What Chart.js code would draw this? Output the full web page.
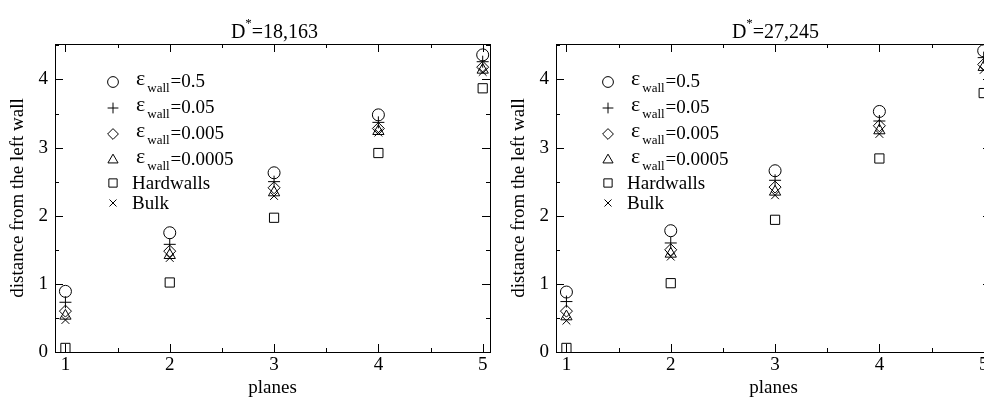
<!DOCTYPE html>
<html>
<head>
<meta charset="utf-8">
<script src="https://cdn.jsdelivr.net/npm/chart.js@4.4.0/dist/chart.umd.min.js"></script>
<style>
  html, body { margin: 0; padding: 0; background: #fff; overflow: hidden; }
  #wrap { position: relative; width: 984px; height: 401px; overflow: hidden; }
  .panel { position: absolute; top: 0; width: 500px; height: 401px; }
</style>
</head>
<body>
<div id="wrap">
  <div class="panel" style="left:0"><canvas id="left"></canvas></div>
  <div class="panel" style="left:501px"><canvas id="right"></canvas></div>
</div>
<script>
const planes = [1, 2, 3, 4, 5];
const xTicks = [1, 2, 3, 4, 5];
const yTicks = [0, 1, 2, 3, 4];
const seriesNames = ['0.5', '0.05', '0.005', '0.0005', 'Hardwalls', 'Bulk'];

// D*=18,163
const leftEps05 = [0.89, 1.75, 2.63, 3.48, 4.36];
const leftEps005 = [0.73, 1.58, 2.50, 3.37, 4.26];
const leftEps0005 = [0.60, 1.48, 2.41, 3.28, 4.18];
const leftEps00005 = [0.53, 1.42, 2.34, 3.24, 4.14];
const leftHard = [0.06, 1.02, 1.97, 2.92, 3.87];
const leftBulk = [0.47, 1.38, 2.29, 3.22, 4.11];

// D*=27,245
const rightEps05 = [0.88, 1.78, 2.66, 3.53, 4.42];
const rightEps005 = [0.74, 1.60, 2.52, 3.39, 4.32];
const rightEps0005 = [0.60, 1.50, 2.42, 3.32, 4.22];
const rightEps00005 = [0.52, 1.44, 2.35, 3.25, 4.18];
const rightHard = [0.06, 1.01, 1.94, 2.84, 3.80];
const rightBulk = [0.46, 1.40, 2.30, 3.20, 4.14];

const FONT = "'Liberation Serif', 'Times New Roman', serif";
const styles = ['circle', 'cross', 'rectRot', 'triangle', 'rect', 'crossRot'];
const radii = [6, 6, 6, 6.5, 6.5, 5.5];

// small copy of chart.js marker shapes for the legend
function drawMarker(ctx, style, x, y, r) {
  ctx.beginPath();
  if (style === 'circle') {
    ctx.arc(x, y, r, 0, Math.PI * 2);
  } else if (style === 'cross') {
    ctx.moveTo(x - r, y); ctx.lineTo(x + r, y);
    ctx.moveTo(x, y - r); ctx.lineTo(x, y + r);
  } else if (style === 'crossRot') {
    const s = r * Math.SQRT1_2;
    ctx.moveTo(x - s, y - s); ctx.lineTo(x + s, y + s);
    ctx.moveTo(x - s, y + s); ctx.lineTo(x + s, y - s);
  } else if (style === 'rectRot') {
    ctx.moveTo(x, y - r); ctx.lineTo(x + r, y); ctx.lineTo(x, y + r); ctx.lineTo(x - r, y); ctx.closePath();
  } else if (style === 'rect') {
    const s = r * Math.SQRT1_2;
    ctx.rect(x - s, y - s, 2 * s, 2 * s);
  } else if (style === 'triangle') {
    for (let k = 0; k < 3; k++) {
      const a = k * 2 * Math.PI / 3;
      const px = x + Math.sin(a) * r, py = y - Math.cos(a) * r;
      if (k === 0) ctx.moveTo(px, py); else ctx.lineTo(px, py);
    }
    ctx.closePath();
  }
  ctx.stroke();
}

const decor = {
  id: 'decor',
  afterDraw(chart, args, opts) {
    const { ctx, chartArea: a, scales: { x, y } } = chart;
    ctx.save();
    ctx.strokeStyle = '#000';
    ctx.fillStyle = '#000';
    ctx.lineWidth = 1;
    ctx.strokeRect(Math.round(a.left) + 0.5, Math.round(a.top) + 0.5,
      Math.round(a.right - a.left), Math.round(a.bottom - a.top));

    // inward ticks on all four sides
    ctx.beginPath();
    xTicks.forEach(v => {
      [[v, 8], [v + 0.5, 4]].forEach(([t, len]) => {
        if (t < x.min || t > x.max) return;
        const px = Math.round(x.getPixelForValue(t)) + 0.5;
        ctx.moveTo(px, a.bottom); ctx.lineTo(px, a.bottom - len);
        ctx.moveTo(px, a.top); ctx.lineTo(px, a.top + len);
      });
    });
    yTicks.forEach(v => {
      [[v, 8], [v + 0.5, 4]].forEach(([t, len]) => {
        if (t < y.min || t > y.max) return;
        const py = Math.round(y.getPixelForValue(t)) + 0.5;
        ctx.moveTo(a.left, py); ctx.lineTo(a.left + len, py);
        ctx.moveTo(a.right, py); ctx.lineTo(a.right - len, py);
      });
    });
    ctx.stroke();

    // title with superscript
    ctx.textBaseline = 'alphabetic';
    ctx.textAlign = 'left';
    const big = '20px ' + FONT, sup = '13px ' + FONT;
    ctx.font = big; const w1 = ctx.measureText('D').width, w3 = ctx.measureText(opts.title).width;
    ctx.font = sup; const w2 = ctx.measureText('*').width;
    let tx = (a.left + a.right) / 2 - (w1 + w2 + w3) / 2 + 2;
    ctx.font = big; ctx.fillText('D', tx, 38); tx += w1;
    ctx.font = sup; ctx.fillText('*', tx, 27); tx += w2;
    ctx.font = big; ctx.fillText(opts.title, tx, 38);

    // legend
    const rows = [82, 108, 134, 160, 183, 203];
    const lx = opts.legendX;
    const txt = '19px ' + FONT;
    chart.data.datasets.forEach((ds, i) => {
      const ry = rows[i];
      drawMarker(ctx, ds.pointStyle, lx, ry, ds.pointRadius * 0.9);
      if (i < 4) {
        let sx = lx + 23;
        ctx.font = '22px ' + FONT; ctx.fillText('\u03b5', sx, ry + 3); sx += ctx.measureText('\u03b5').width + 2;
        ctx.font = '13px ' + FONT; ctx.fillText('wall', sx, ry + 10); sx += ctx.measureText('wall').width + 1;
        ctx.font = txt; ctx.fillText('=' + ds.label, sx, ry + 5);
      } else {
        ctx.font = txt; ctx.fillText(ds.label, lx + 19, ry + 6);
      }
    });
    ctx.restore();
  }
};

function makeChart(id, vals, title, legendX) {
  const datasets = vals.map((v, i) => ({
    label: seriesNames[i],
    data: planes.map((p, j) => ({ x: p, y: v[j] })),
    pointStyle: styles[i],
    pointRadius: radii[i],
    borderColor: '#000',
    backgroundColor: 'rgba(0,0,0,0)',
    borderWidth: 1,
    pointBorderWidth: 1,
    showLine: false,
    clip: false
  }));
  return new Chart(document.getElementById(id), {
    type: 'scatter',
    data: { datasets },
    plugins: [decor],
    options: {
      responsive: true,
      maintainAspectRatio: false,
      animation: false,
      devicePixelRatio: 1,
      events: [],
      layout: { padding: { top: 44, left: 0, right: 10, bottom: 0 } },
      plugins: {
        legend: { display: false },
        tooltip: { enabled: false },
        decor: { title, legendX }
      },
      scales: {
        x: {
          type: 'linear', min: 0.9, max: 5.07,
          afterBuildTicks: s => { s.ticks = xTicks.map(v => ({ value: v })); },
          afterFit: s => { s.height = 49; },
          grid: { display: false, drawTicks: false },
          border: { display: false },
          ticks: { color: '#000', padding: 2, font: { family: FONT, size: 19 } },
          title: { display: true, text: 'planes', color: '#000', padding: { top: 0, bottom: 2 }, font: { family: FONT, size: 19 } }
        },
        y: {
          type: 'linear', min: 0, max: 4.52,
          afterBuildTicks: s => { s.ticks = yTicks.map(v => ({ value: v })); },
          afterFit: s => { s.width = 55; },
          grid: { display: false, drawTicks: false },
          border: { display: false },
          ticks: { color: '#000', padding: 7, font: { family: FONT, size: 19 } },
          title: { display: true, text: 'distance from the left wall', color: '#000', padding: { top: 7, bottom: 0 }, font: { family: FONT, size: 19 } }
        }
      }
    }
  });
}

makeChart('left', [leftEps05, leftEps005, leftEps0005, leftEps00005, leftHard, leftBulk], '=18,163', 113);
makeChart('right', [rightEps05, rightEps005, rightEps0005, rightEps00005, rightHard, rightBulk], '=27,245', 107);
</script>
</body>
</html>
